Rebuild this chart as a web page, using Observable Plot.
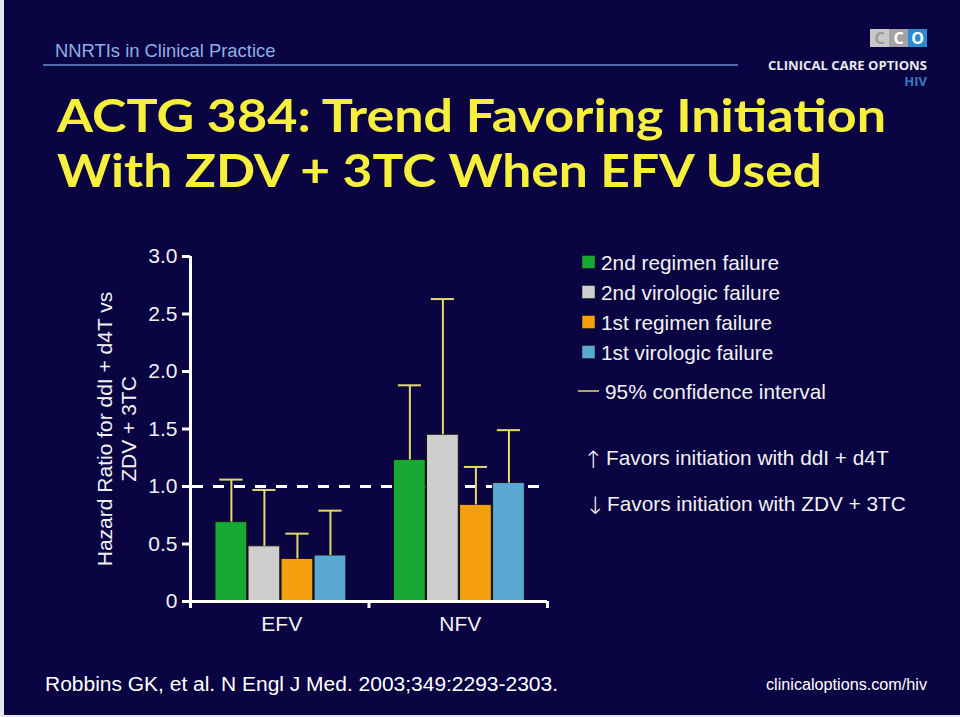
<!DOCTYPE html>
<html>
<head>
<meta charset="utf-8">
<script src="https://cdn.jsdelivr.net/npm/d3@7"></script>
<script src="https://cdn.jsdelivr.net/npm/@observablehq/plot@0.6"></script>
<style>
  html, body { margin: 0; padding: 0; background: #0a0442; }
  #page { position: relative; width: 960px; height: 717px; overflow: hidden; background: #0a0442; font-family: "Liberation Sans", Arial, sans-serif; }
  #deco { position: absolute; left: 0; top: 0; }
  #chart { position: absolute; left: 0; top: 220px; }
</style>
</head>
<body>
<div id="page">
  <svg id="deco" width="960" height="717" xmlns="http://www.w3.org/2000/svg"></svg>
  <div id="chart"></div>
</div>
<script>
// ---- data ----
const groups = ["EFV", "NFV"];
const series = ["2nd regimen failure", "2nd virologic failure", "1st regimen failure", "1st virologic failure"];
const seriesColors = ["#17a934", "#cecece", "#f4a00e", "#5aa9d2"];
const efvHazardRatio = [0.69, 0.48, 0.37, 0.40];
const efvUpperCI = [1.06, 0.97, 0.59, 0.79];
const nfvHazardRatio = [1.23, 1.45, 0.84, 1.03];
const nfvUpperCI = [1.88, 2.63, 1.17, 1.49];
const yTicks = [0, 0.5, 1.0, 1.5, 2.0, 2.5, 3.0];
const yTickLabels = ["0", "0.5", "1.0", "1.5", "2.0", "2.5", "3.0"];
const referenceHR = 1.0;
const yTitle = "Hazard Ratio for ddI + d4T vs\nZDV + 3TC";
const titleLines = ["ACTG 384: Trend Favoring Initiation", "With ZDV + 3TC When EFV Used"];
const headerText = "NNRTIs in Clinical Practice";
const ciLabel = "95% confidence interval";
const favorUp = "Favors initiation with ddI + d4T";
const favorDown = "Favors initiation with ZDV + 3TC";
const sourceText = "Robbins GK, et al. N Engl J Med. 2003;349:2293-2303.";
const siteText = "clinicaloptions.com/hiv";

// ---- table ----
const hrByGroup = [efvHazardRatio, nfvHazardRatio];
const ciByGroup = [efvUpperCI, nfvUpperCI];
const rows = [];
groups.forEach((g, gi) => series.forEach((s, si) => {
  rows.push({group: g, gi, series: s, si, hr: hrByGroup[gi][si], upper: ciByGroup[gi][si]});
}));

// layout within each category band (x unit = one category)
const groupOffset = 0.14, step = 0.185, barW = 0.178, capW = 0.13;
const x1 = d => d.gi + groupOffset + d.si * step;
const x2 = d => x1(d) + barW;
const xc = d => x1(d) + barW / 2;

const ciColor = "#e3da6a";
const axisColor = "#ffffff";
const textColor = "#f2f2f2";

const chart = Plot.plot({
  width: 960,
  height: 426,
  marginLeft: 190,
  marginRight: 413,
  marginTop: 36,
  marginBottom: 45,
  style: {background: "transparent", color: textColor, fontFamily: "'Liberation Sans', Arial, sans-serif", overflow: "visible"},
  x: {type: "linear", domain: [0, groups.length], axis: null},
  y: {domain: [0, 3], axis: null},
  color: {domain: series, range: seriesColors},
  marks: [
    Plot.ruleY([referenceHR], {stroke: axisColor, strokeWidth: 3, strokeDasharray: "11,10", dx: 2}),
    Plot.rectY(rows, {x1, x2, y1: 0, y2: "hr", fill: "series", stroke: "#141414", strokeWidth: 1}),
    Plot.ruleX(rows, {x: xc, y1: "hr", y2: "upper", stroke: ciColor, strokeWidth: 2}),
    Plot.ruleY(rows, {y: "upper", x1: d => xc(d) - capW / 2, x2: d => xc(d) + capW / 2, stroke: ciColor, strokeWidth: 2}),
    Plot.ruleX([0], {y1: 0, y2: 3, stroke: axisColor, strokeWidth: 3}),
    Plot.ruleY([0], {stroke: axisColor, strokeWidth: 3}),
    Plot.axisY({ticks: yTicks, tickFormat: (d, i) => yTickLabels[i], tickSize: 8, tickPadding: 5, strokeWidth: 3, stroke: axisColor, fill: textColor, fontSize: 21}),
    Plot.axisX({ticks: d3.range(groups.length + 1), tickSize: 7, tickFormat: () => "", strokeWidth: 3, stroke: axisColor}),
    Plot.axisX({ticks: groups.map((g, i) => i + 0.5), tickSize: 0, tickPadding: 15, tickFormat: d => groups[Math.floor(d)], fill: textColor, fontSize: 21, dx: 2}),
    Plot.text([yTitle], {frameAnchor: "left", dx: -74, rotate: -90, fontSize: 21, lineHeight: 1.12, fill: textColor, textAnchor: "middle", lineAnchor: "middle"})
  ]
});
document.getElementById("chart").appendChild(chart);

// ---- decorations: title, header, legend, footer ----
const deco = d3.select("#deco");
const ff = "'Liberation Sans', Arial, sans-serif";
// border strips
deco.append("rect").attr("x", 0).attr("y", 0).attr("width", 4).attr("height", 717).attr("fill", "#e6e6ee");
deco.append("rect").attr("x", 0).attr("y", 715).attr("width", 960).attr("height", 2).attr("fill", "#e6e6ee");

// header
deco.append("text").attr("x", 55).attr("y", 57).attr("font-family", ff).attr("font-size", 18.4)
  .attr("fill", "#8fb0e6").text(headerText);
deco.append("rect").attr("x", 43).attr("y", 64).attr("width", 695).attr("height", 2).attr("fill", "#4d6db0");

// logo
const logo = deco.append("g");
[["#c9c9c9", "#9a9a9a"], ["#a3a3a3", "#ffffff"], ["#2a8bd3", "#ffffff"]].forEach(([c, tc], i) => {
  logo.append("rect").attr("x", 870 + i * 19).attr("y", 29).attr("width", 19).attr("height", 18).attr("fill", c);
  logo.append("text").attr("x", 879.5 + i * 19).attr("y", 44).attr("text-anchor", "middle")
    .attr("font-family", "'Open Sans', sans-serif").attr("font-weight", 700).attr("font-size", 16)
    .attr("fill", tc).text(i === 2 ? "O" : "C");
});
logo.append("text").attr("x", 768).attr("y", 70).attr("font-family", "'Open Sans', sans-serif").attr("font-weight", 700)
  .attr("font-size", 12.5).attr("textLength", 159).attr("lengthAdjust", "spacingAndGlyphs").attr("fill", "#e8e8ee").text("CLINICAL CARE OPTIONS");
logo.append("text").attr("x", 927).attr("y", 86).attr("text-anchor", "end").attr("font-family", "'Open Sans', sans-serif").attr("font-weight", 700)
  .attr("font-size", 13).attr("fill", "#3a7cc4").text("HIV");

// title
const titleFont = "'Comic Sans MS', Lato, 'Open Sans', sans-serif";
[[132, 829], [187, 765]].forEach(([y, w], i) => {
  deco.append("text").attr("x", 57).attr("y", y).attr("font-family", titleFont).attr("font-weight", 700)
    .attr("font-size", 46).attr("textLength", w).attr("lengthAdjust", "spacingAndGlyphs")
    .attr("fill", "#f6ef3c").text(titleLines[i]);
});

// legend
const legendY = [262, 292, 322, 352];
const lf = 20.8;
series.forEach((s, i) => {
  deco.append("rect").attr("x", 582).attr("y", legendY[i] - 6.5).attr("width", 13).attr("height", 13)
    .attr("fill", seriesColors[i]).attr("stroke", "#141414").attr("stroke-width", 0.5);
  deco.append("text").attr("x", 601).attr("y", legendY[i] + 7.5).attr("font-family", ff).attr("font-size", lf)
    .attr("fill", textColor).text(s);
});
deco.append("line").attr("x1", 578).attr("x2", 599).attr("y1", 391).attr("y2", 391).attr("stroke", ciColor).attr("stroke-width", 1.5);
deco.append("text").attr("x", 605).attr("y", 399).attr("font-family", ff).attr("font-size", lf).attr("fill", textColor).text(ciLabel);
const arrowFont = "'DejaVu Sans', sans-serif";
deco.append("text").attr("x", 593).attr("y", 468).attr("text-anchor", "middle").attr("font-family", arrowFont).attr("font-weight", 200).attr("font-size", 24).attr("fill", textColor).text("\u2191");
deco.append("text").attr("x", 606).attr("y", 465).attr("font-family", ff).attr("font-size", lf).attr("fill", textColor).text(favorUp);
deco.append("text").attr("x", 595).attr("y", 514).attr("text-anchor", "middle").attr("font-family", arrowFont).attr("font-weight", 200).attr("font-size", 24).attr("fill", textColor).text("\u2193");
deco.append("text").attr("x", 607).attr("y", 511).attr("font-family", ff).attr("font-size", lf).attr("fill", textColor).text(favorDown);

// footer
deco.append("text").attr("x", 45).attr("y", 691).attr("font-family", ff).attr("font-size", 20)
  .attr("textLength", 513).attr("lengthAdjust", "spacingAndGlyphs").attr("fill", "#ffffff").text(sourceText);
deco.append("text").attr("x", 766).attr("y", 690).attr("font-family", ff).attr("font-size", 16)
  .attr("textLength", 161).attr("lengthAdjust", "spacingAndGlyphs").attr("fill", "#ffffff").text(siteText);
</script>
</body>
</html>
